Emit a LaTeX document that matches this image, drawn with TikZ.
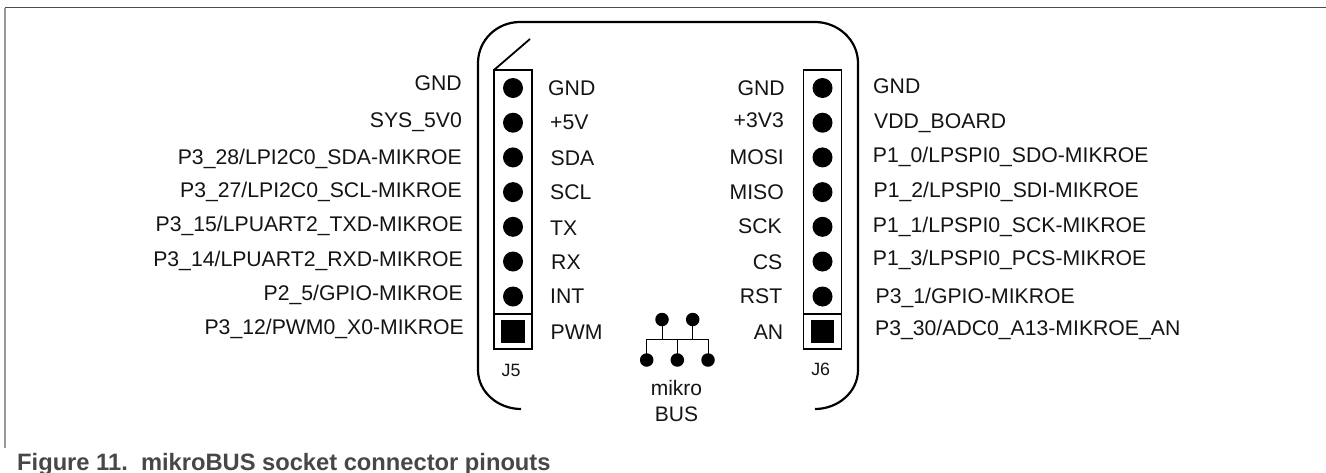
\documentclass[tikz,border=0pt]{standalone}
\usepackage{fontspec}
\setmainfont{Liberation Sans}
\begin{document}
\begin{tikzpicture}[x=1pt,y=-1pt,
  lab/.style={font=\fontsize{21.2}{24}\selectfont,inner sep=0pt,text=black!92},
  labl/.style={lab,anchor=base west},
  labr/.style={lab,anchor=base east},
  small/.style={font=\fontsize{17.8}{20}\selectfont,inner sep=0pt,anchor=base,text=black!92},
  logotext/.style={font=\fontsize{21}{24}\selectfont,inner sep=0pt,anchor=base,text=black!92},
  dot/.style={circle,fill=black,inner sep=0pt,minimum size=20pt},
  sq/.style={rectangle,fill=black,inner sep=0pt,minimum size=23.3pt},
  tiny/.style={circle,fill=black,inner sep=0pt,minimum size=13.5pt},
  hd/.style={draw=black,line width=1.8pt},
  body/.style={draw=black,line width=2.2pt},
  bus/.style={draw=black,line width=1pt}]
\useasboundingbox (0,0) rectangle (1326,472);
\fill[white] (0,0) rectangle (1326,472);
\coordinate (ftl) at (5,7.5);
\coordinate (ftr) at (1326,7.5);
\coordinate (fbl) at (5,448);
\draw[black!40,line width=1.2pt] (ftl) -- (fbl);
\draw[black!70,line width=1pt] (ftl) -- (ftr);
\node[anchor=base west,inner sep=0pt,font=\bfseries\fontsize{23.7}{26}\selectfont,text=black!72] (cap) at (17,470.5) {Figure 11.\ \ mikroBUS socket connector pinouts};
% body
\draw[body] (521,409) .. controls (498,409) and (478,392) .. (478,370) -- (478,63) .. controls (478,40) and (497,22) .. (520,22) -- (815,22) .. controls (838,22) and (858,40) .. (858,63) -- (858,370) .. controls (858,392) and (838,409) .. (815,409);
% connectors
\draw[hd] (494,70) rectangle (532,349);
\draw[hd] (494,314) -- (532,314);
\draw[hd] (494,70) -- (530,39);
\draw[hd] (803.5,70) rectangle (841.5,349);
\draw[hd] (803.5,314) -- (841.5,314);
\foreach \n/\y in {1/88,2/122.7,3/157.4,4/192.1,5/226.8,6/261.5,7/296.5}{
  \node[dot] (a\n) at (513,\y) {};
  \node[dot] (b\n) at (822.5,\y) {};
}
\node[sq] (a8) at (513,331.7) {};
\node[sq] (b8) at (822.5,331.7) {};
% left outer
\node[labr] (lo1) at (462,90.7) {GND};
\node[labr] (lo2) at (462,127.5) {SYS\_5V0};
\node[labr] (lo3) at (462,164) {P3\_28/LPI2C0\_SDA-MIKROE};
\node[labr] (lo4) at (462,197.3) {P3\_27/LPI2C0\_SCL-MIKROE};
\node[labr] (lo5) at (463,231.7) {P3\_15/LPUART2\_TXD-MIKROE};
\node[labr] (lo6) at (463,266) {P3\_14/LPUART2\_RXD-MIKROE};
\node[labr] (lo7) at (463,300) {P2\_5/GPIO-MIKROE};
\node[labr] (lo8) at (464,334) {P3\_12/PWM0\_X0-MIKROE};
% left inner
\node[labl] (li1) at (548,95) {GND};
\node[labl] (li2) at (550,129) {+5V};
\node[labl] (li3) at (550.5,165.5) {SDA};
\node[labl] (li4) at (550,199.7) {SCL};
\node[labl] (li5) at (550,235.5) {TX};
\node[labl] (li6) at (551,269) {RX};
\node[labl] (li7) at (550,303.5) {INT};
\node[labl] (li8) at (550.5,339) {PWM};
% right inner
\node[labr] (ri1) at (785,95.3) {GND};
\node[labr] (ri2) at (784,127.6) {+3V3};
\node[labr] (ri3) at (784,164.3) {MOSI};
\node[labr] (ri4) at (784,199.3) {MISO};
\node[labr] (ri5) at (782,233.3) {SCK};
\node[labr] (ri6) at (782.5,269) {CS};
\node[labr] (ri7) at (782.5,303.3) {RST};
\node[labr] (ri8) at (783.5,339) {AN};
% right outer
\node[labl] (ro1) at (873,93) {GND};
\node[labl] (ro2) at (874,128) {VDD\_BOARD};
\node[labl] (ro3) at (872.7,162) {P1\_0/LPSPI0\_SDO-MIKROE};
\node[labl] (ro4) at (873.5,197.3) {P1\_2/LPSPI0\_SDI-MIKROE};
\node[labl] (ro5) at (872.7,232.7) {P1\_1/LPSPI0\_SCK-MIKROE};
\node[labl] (ro6) at (872.7,265.5) {P1\_3/LPSPI0\_PCS-MIKROE};
\node[labl] (ro7) at (875.5,303.3) {P3\_1/GPIO-MIKROE};
\node[labl] (ro8) at (875,335.5) {P3\_30/ADC0\_A13-MIKROE\_AN};
\node[small] (j5) at (511,376) {J5};
\node[small] (j6) at (820.7,375) {J6};
% logo
\node[tiny] (t1) at (662,319.5) {};
\node[tiny] (t2) at (692.7,319.5) {};
\node[tiny] (d1) at (646.7,360) {};
\node[tiny] (d2) at (677.3,360) {};
\node[tiny] (d3) at (708,360) {};
\coordinate (bl) at (646.7,339.7);
\coordinate (br) at (708,339.7);
\draw[bus] (d1.center) -- (bl) -- (br) -- (d3.center);
\draw[bus] (d2.center) -- (d2.center |- bl);
\draw[bus] (t1.center) -- (t1.center |- bl);
\draw[bus] (t2.center) -- (t2.center |- bl);
\node[logotext] (m1) at (676.5,395.5) {mikro};
\node[logotext] (m2) at (676.5,421.5) {BUS};
\end{tikzpicture}
\end{document}
